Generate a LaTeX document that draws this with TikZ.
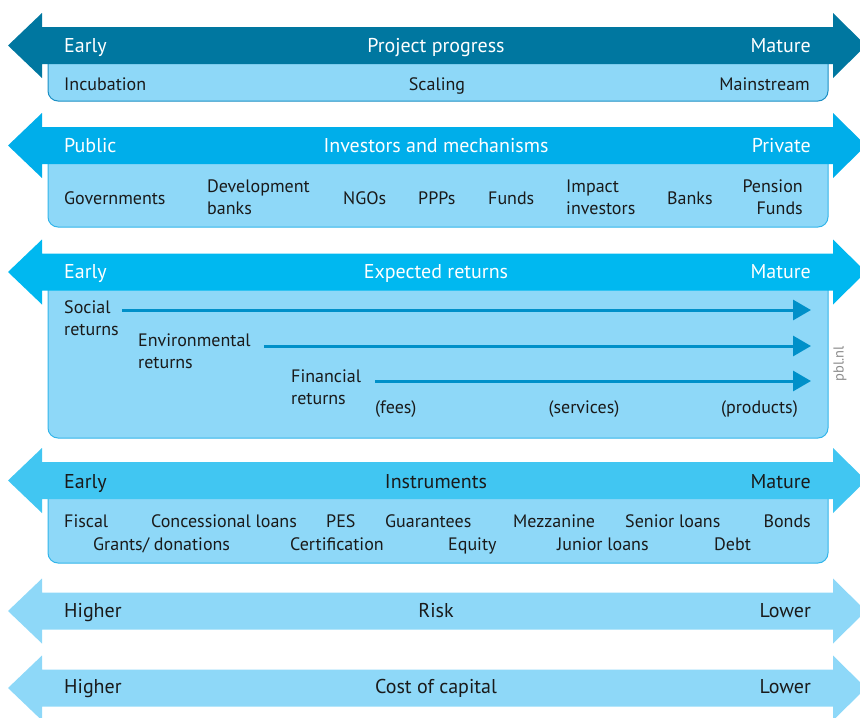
\documentclass[tikz,border=0pt]{standalone}
\usepackage{fontspec}
\setmainfont{PT Sans}
\usetikzlibrary{arrows.meta}

\definecolor{pbldark}{HTML}{0077A0}
\definecolor{pblmid}{HTML}{00AEEA}
\definecolor{pblcyan}{HTML}{00B8F0}
\definecolor{pblsky}{HTML}{41C6F2}
\definecolor{pbllight}{HTML}{8ED8F8}
\definecolor{pbledge}{HTML}{33B5EA}
\definecolor{pbledgedark}{HTML}{1C8FC4}
\definecolor{pblline}{HTML}{0090C9}
\definecolor{pbltext}{HTML}{1A1A1A}

% double headed band: colour, centre y
\newcommand{\bandarrow}[2]{%
  \fill[#1] (8,#2) -- (42,#2-32.5) -- (42,#2-18.5) -- (833,#2-18.5) -- (833,#2-32.5)
    -- (866,#2) -- (833,#2+32.5) -- (833,#2+18.5) -- (42,#2+18.5) -- (42,#2+32.5) -- cycle;}
% light box under a band: edge colour, top, bottom
\newcommand{\phasebox}[3]{%
  \draw[fill=pbllight, draw=#1, line width=1pt, rounded corners=10pt] (48,#2) rectangle (828,#3);}

\begin{document}
\begin{tikzpicture}[x=1pt, y=-1pt,
    hd/.style={font=\fontsize{20}{24}\selectfont, inner sep=0pt},
    lbl/.style={font=\fontsize{18}{22}\selectfont, inner sep=0pt, text=pbltext, align=left},
    retarrow/.style={pblline, line width=3pt, -{Triangle[length=18pt,width=20pt]}}]
  \clip (0,0) rectangle (860,718);

  % project progress
  \phasebox{pbledgedark}{45.5}{101}
  \bandarrow{pbldark}{45.5}
  \node[hd, text=white, anchor=base west] (pe) at (64,52) {Early};
  \node[hd, text=white, anchor=base] (pp) at (436,52) {Project progress};
  \node[hd, text=white, anchor=base east] (pm) at (811,52) {Mature};
  \node[lbl, anchor=base west] (inc) at (64,90) {Incubation};
  \node[lbl, anchor=base] (sca) at (437,90) {Scaling};
  \node[lbl, anchor=base east] (mai) at (810,90) {Mainstream};

  % investors and mechanisms
  \phasebox{pbledge}{145.5}{227}
  \bandarrow{pblmid}{145.5}
  \node[hd, text=white, anchor=base west] (pub) at (64,152) {Public};
  \node[hd, text=white, anchor=base] (inv) at (436,152) {Investors and mechanisms};
  \node[hd, text=white, anchor=base east] (pri) at (811,152) {Private};
  \node[lbl, anchor=base west] (gov) at (64,204) {Governments};
  \node[lbl, anchor=base west] (dev) at (207,214) {Development\\banks};
  \node[lbl, anchor=base west] (ngo) at (343,204) {NGOs};
  \node[lbl, anchor=base west] (ppp) at (418,204) {PPPs};
  \node[lbl, anchor=base west] (fun) at (488,204) {Funds};
  \node[lbl, anchor=base west] (imp) at (566,214) {Impact\\investors};
  \node[lbl, anchor=base west] (ban) at (667,204) {Banks};
  \node[lbl, align=right, anchor=base east] (pen) at (803,214) {Pension\\Funds};

  % expected returns
  \phasebox{pbledge}{272}{438}
  \bandarrow{pblcyan}{272}
  \node[hd, text=white, anchor=base west] (ree) at (64,278) {Early};
  \node[hd, text=white, anchor=base] (ret) at (436,278) {Expected returns};
  \node[hd, text=white, anchor=base east] (rem) at (811,278) {Mature};
  \node[lbl, anchor=base west] (soc) at (64,335) {Social\\returns};
  \node[lbl, anchor=base west] (env) at (138,368) {Environmental\\returns};
  \node[lbl, anchor=base west] (fin) at (291,404) {Financial\\returns};
  \coordinate (socend) at (811,310);
  \coordinate (envend) at (811,346);
  \coordinate (finend) at (811,381);
  \draw[retarrow] ([xshift=3pt]soc.east |- socend) -- (socend);
  \draw[retarrow] ([xshift=13pt]env.east |- envend) -- (envend);
  \draw[retarrow] ([xshift=14pt]fin.east |- finend) -- (finend);
  \node[lbl, anchor=base west] (fee) at (375,413) {(fees)};
  \node[lbl, anchor=base] (ser) at (584,413) {(services)};
  \node[lbl, anchor=base east] (pro) at (798,413) {(products)};
  \node[rotate=90, font=\fontsize{14.5}{16}\selectfont, text=black!45] (pbl) at (840,364) {pbl.nl};

  % instruments
  \phasebox{pbledge}{480.5}{563}
  \bandarrow{pblsky}{480.5}
  \node[hd, text=pbltext, anchor=base west] (ine) at (64,488) {Early};
  \node[hd, text=pbltext, anchor=base] (ins) at (436,488) {Instruments};
  \node[hd, text=pbltext, anchor=base east] (inm) at (811,488) {Mature};
  \node[lbl, anchor=base west] (fis) at (64,527) {Fiscal};
  \node[lbl, anchor=base west] (con) at (151,527) {Concessional loans};
  \node[lbl, anchor=base west] (pes) at (326,527) {PES};
  \node[lbl, anchor=base west] (gua) at (385,527) {Guarantees};
  \node[lbl, anchor=base west] (mez) at (513,527) {Mezzanine};
  \node[lbl, anchor=base west] (sen) at (625,527) {Senior loans};
  \node[lbl, anchor=base east] (bon) at (811,527) {Bonds};
  \node[lbl, anchor=base west] (gra) at (93,550) {Grants/ donations};
  \node[lbl, anchor=base west] (cer) at (290,550) {Certification};
  \node[lbl, anchor=base west] (equ) at (448,550) {Equity};
  \node[lbl, anchor=base west] (jun) at (557,550) {Junior loans};
  \node[lbl, anchor=base west] (deb) at (714,550) {Debt};

  % risk
  \bandarrow{pbllight}{611}
  \node[hd, text=pbltext, anchor=base west] (rih) at (64,617) {Higher};
  \node[hd, text=pbltext, anchor=base] (ris) at (436,617) {Risk};
  \node[hd, text=pbltext, anchor=base east] (ril) at (811,617) {Lower};

  % cost of capital
  \bandarrow{pbllight}{688}
  \node[hd, text=pbltext, anchor=base west] (coh) at (64,693) {Higher};
  \node[hd, text=pbltext, anchor=base] (cos) at (436,693) {Cost of capital};
  \node[hd, text=pbltext, anchor=base east] (col) at (811,693) {Lower};
\end{tikzpicture}
\end{document}
